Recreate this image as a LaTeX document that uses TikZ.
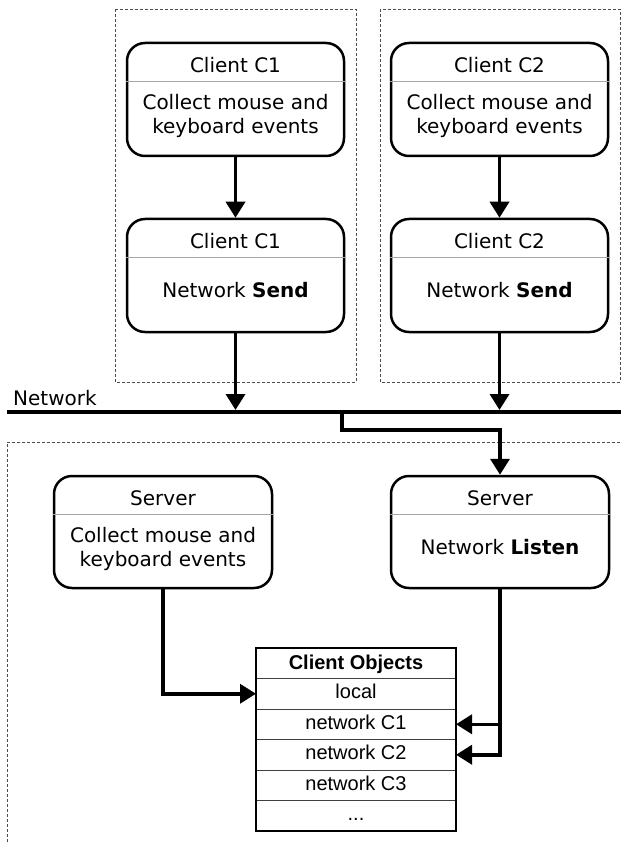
\documentclass[tikz,border=0pt]{standalone}
\usepackage{fontspec}
\setmainfont{DejaVu Sans}
\newfontfamily\tablafont{Liberation Sans}
\usetikzlibrary{arrows.meta,positioning}

\begin{document}
\begin{tikzpicture}[x=1pt,y=-1pt]
    \useasboundingbox (0,0) rectangle (621,842);

    % Estilos
    \tikzset{
      caja/.style={
        draw, line width=2.5pt, rounded corners=18pt,
        minimum width=217pt, minimum height=113pt, inner sep=0pt
      },
      cabecera/.style={
        anchor=north, minimum height=39pt, text height=23pt, text depth=0pt,
        inner sep=0pt, font=\fontsize{20}{24}\selectfont
      },
      cuerpo/.style={align=center, inner sep=0pt, font=\fontsize{20}{24}\selectfont},
      divisor/.style={draw=gray!70, line width=1pt},
      grupo/.style={draw=gray!60!black, line width=0.9pt, dash pattern=on 3pt off 2pt},
      flecha/.style={line width=3.5pt, -{Triangle[length=16pt,width=19pt]}},
      fila/.style={
        draw=black!75, line width=1pt, minimum width=200pt, minimum height=30.5pt,
        text height=14pt, text depth=4pt, inner sep=0pt, outer sep=0pt,
        font=\tablafont\fontsize{20}{24}\selectfont
      }
    }

    % Grupos punteados
    \draw[grupo] (115,9) rectangle (356,382);
    \draw[grupo] (380,9) rectangle (620,382);
    \draw[grupo] (625,442) -| (7,846);

    % Cliente C1
    \node[caja] (c1ev) at (235.5,99.5) {};
    \node[cabecera] (c1evh) at (c1ev.north) {Client C1};
    \draw[divisor] (c1ev.west |- c1evh.south) -- (c1ev.east |- c1evh.south);
    \node[cuerpo, yshift=-35pt] (c1evt) at (c1evh.south) {Collect mouse and\\keyboard events};

    \node[caja] (c1snd) at (235.5,275.5) {};
    \node[cabecera] (c1sndh) at (c1snd.north) {Client C1};
    \draw[divisor] (c1snd.west |- c1sndh.south) -- (c1snd.east |- c1sndh.south);
    \node[cuerpo, anchor=base, yshift=-40.5pt] (c1sndt) at (c1sndh.south) {Network \textbf{Send}};

    % Cliente C2
    \node[caja] (c2ev) at (499.5,99.5) {};
    \node[cabecera] (c2evh) at (c2ev.north) {Client C2};
    \draw[divisor] (c2ev.west |- c2evh.south) -- (c2ev.east |- c2evh.south);
    \node[cuerpo, yshift=-35pt] (c2evt) at (c2evh.south) {Collect mouse and\\keyboard events};

    \node[caja] (c2snd) at (499.5,275.5) {};
    \node[cabecera] (c2sndh) at (c2snd.north) {Client C2};
    \draw[divisor] (c2snd.west |- c2sndh.south) -- (c2snd.east |- c2sndh.south);
    \node[cuerpo, anchor=base, yshift=-40.5pt] (c2sndt) at (c2sndh.south) {Network \textbf{Send}};

    % Servidor
    \node[caja, minimum width=218pt, minimum height=112pt] (srvev) at (163,532) {};
    \node[cabecera] (srvevh) at (srvev.north) {Server};
    \draw[divisor] (srvev.west |- srvevh.south) -- (srvev.east |- srvevh.south);
    \node[cuerpo, yshift=-35pt] (srvevt) at (srvevh.south) {Collect mouse and\\keyboard events};

    \node[caja, minimum width=218pt, minimum height=112pt] (srvlst) at (500,532) {};
    \node[cabecera] (srvlsth) at (srvlst.north) {Server};
    \draw[divisor] (srvlst.west |- srvlsth.south) -- (srvlst.east |- srvlsth.south);
    \node[cuerpo, anchor=base, yshift=-40.5pt] (srvlstt) at (srvlsth.south) {Network \textbf{Listen}};

    % Red
    \coordinate (redI) at (7,412);
    \coordinate (redD) at (621,412);
    \draw[line width=4pt] (redI) -- (redD);
    \node[anchor=base west, inner sep=0pt, font=\fontsize{20}{24}\selectfont] (redtxt) at (13,405) {Network};

    % Tabla de objetos
    \node[fila, font=\tablafont\bfseries\fontsize{20}{24}\selectfont, text height=15pt, text depth=3pt] (tabh) at (356,663.25) {Client Objects};
    \node[fila, below=0pt of tabh] (tlocal) {local};
    \node[fila, below=0pt of tlocal] (tc1) {network C1};
    \node[fila, below=0pt of tc1] (tc2) {network C2};
    \node[fila, below=0pt of tc2] (tc3) {network C3};
    \node[fila, below=0pt of tc3] (tdots) {...};
    \draw[line width=2.5pt] (tabh.north west) rectangle (tdots.south east);

    % Flechas
    \draw[flecha] (c1ev.south) -- (c1snd.north);
    \draw[flecha] (c2ev.south) -- (c2snd.north);
    \coordinate (r1) at (c1snd.south |- redI);
    \coordinate (r2) at (c2snd.south |- redI);
    \draw[flecha, shorten >=2pt] (c1snd.south) -- (r1);
    \draw[flecha, shorten >=2pt] (c2snd.south) -- (r2);
    \coordinate (rs) at (342,412);
    \coordinate (rcodo) at (342,430);
    \draw[flecha] (rs) -- (rcodo) -| (srvlst.north);
    \draw[flecha] (srvev.south) |- (tlocal.west);
    \draw[flecha] (srvlst.south) |- (tc2.east);
    \draw[flecha] (srvlst.south |- tc1.east) -- (tc1.east);
  \end{tikzpicture}
\end{document}
